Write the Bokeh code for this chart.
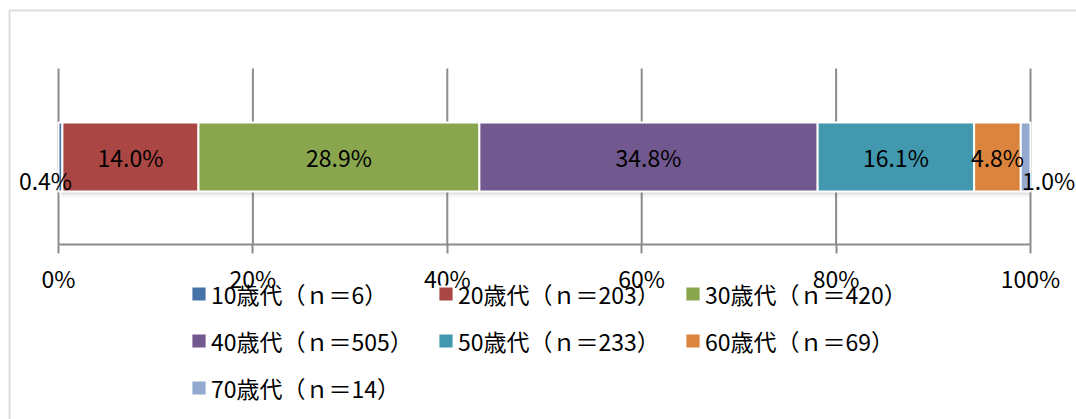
from bokeh.plotting import figure
from bokeh.models import (Range1d, FixedTicker, ColumnDataSource, LabelSet,
                          Legend, LegendItem, BoxAnnotation, LinearAxis)
from bokeh.core.properties import value
from bokeh.embed import file_html
from bokeh.resources import INLINE

# Age groups and their shares (%) of all respondents
groups = ["10歳代", "20歳代", "30歳代", "40歳代", "50歳代", "60歳代", "70歳代"]
counts = [6, 203, 420, 505, 233, 69, 14]
shares = [0.4, 14.0, 28.9, 34.8, 16.1, 4.8, 1.0]
colors = ["#4572A7", "#AA4643", "#89A54E", "#71588F", "#4198AF", "#DB843D", "#93A9CF"]

tick_values = [0, 20, 40, 60, 80, 100]
tick_labels = ["0%", "20%", "40%", "60%", "80%", "100%"]

FONT = "Noto Sans CJK JP"
FS = "23px"
GRAY = "#8C8C8C"

W, H = 1076, 419
# page layout, in pixels from the top-left corner
PLOT_L, PLOT_R = 58, 1030        # 0% and 100%
PLOT_T, AXIS_Y = 68, 244         # top of the grid, axis line
BAR_CY, BAR_HPX = 156.5, 69      # bar centre and thickness


def ypx(py):
    """pixel row (from the top) -> y data value"""
    return H - py


scale = (PLOT_R - PLOT_L) / 100.0
x_start = -PLOT_L / scale
x_end = 100 + (W - PLOT_R) / scale

legend_names = [f"{g}（ｎ＝{n}）" for g, n in zip(groups, counts)]

p = figure(width=W, height=H, output_backend="svg", toolbar_location=None,
           x_range=Range1d(x_start, x_end), y_range=Range1d(0, H),
           x_axis_type=None, y_axis_type=None,
           min_border=0, min_border_left=0, min_border_right=0,
           min_border_top=0, min_border_bottom=0)
p.outline_line_color = None
p.background_fill_color = "white"
p.border_fill_color = "white"

# vertical grid lines at the tick positions
p.segment(x0=tick_values, x1=tick_values,
          y0=[ypx(AXIS_Y)] * len(tick_values), y1=[ypx(PLOT_T)] * len(tick_values),
          line_color=GRAY, line_width=2)

# percent axis
ax = LinearAxis(fixed_location=ypx(AXIS_Y), bounds=(0, 100))
ax.ticker = FixedTicker(ticks=tick_values)
ax.major_label_overrides = {v: s for v, s in zip(tick_values, tick_labels)}
ax.axis_line_color = GRAY
ax.axis_line_width = 2
ax.major_tick_line_color = GRAY
ax.major_tick_line_width = 2
ax.major_tick_in = 0
ax.major_tick_out = 9
ax.minor_tick_line_color = None
ax.major_label_standoff = 7
ax.major_label_text_font = FONT
ax.major_label_text_font_size = FS
ax.major_label_text_color = "black"
p.add_layout(ax, "below")

# soft shadow under the bar
total = sum(shares)
for k, a in enumerate([0.10, 0.07, 0.04]):
    p.hbar(y=ypx(BAR_CY) - 2 * (k + 1), height=BAR_HPX, left=0.3, right=total,
           fill_color="#555555", fill_alpha=a, line_color=None)

# the stacked bar
src = ColumnDataSource({"y": [ypx(BAR_CY)], **{g: [v] for g, v in zip(groups, shares)}})
rends = p.hbar_stack(groups, y="y", height=BAR_HPX, color=colors, source=src,
                     line_color="white", line_width=2)

# value labels, centred in each segment
lefts = [sum(shares[:i]) for i in range(len(shares))]
centers = [l + v / 2 for l, v in zip(lefts, shares)]
x_off = [-15, 0, 0, 0, 0, 0, 23]
y_off = [-23, 0, 0, 0, 0, 0, -23]
lab_src = ColumnDataSource(dict(x=centers, y=[ypx(BAR_CY)] * len(shares),
                                text=[f"{v:.1f}%" for v in shares],
                                xo=x_off, yo=y_off))
p.add_layout(LabelSet(x="x", y="y", text="text", source=lab_src,
                      x_offset="xo", y_offset="yo",
                      text_align="center", text_baseline="middle",
                      text_font=value(FONT), text_font_size=value(FS),
                      text_color="black"))

# legend in three columns below the axis, filled row by row
legend = Legend(items=[LegendItem(label=n, renderers=[r]) for n, r in zip(legend_names, rends)],
                orientation="horizontal", ncols=3, location=(189, H - 411),
                glyph_width=19, glyph_height=19, label_standoff=3,
                label_width=225, label_height=47, spacing=0, padding=0, margin=0,
                label_text_font=FONT, label_text_font_size=FS,
                label_text_color="black",
                border_line_color=None, background_fill_alpha=0)
p.add_layout(legend, "center")

# chart border (top and left edges)
p.add_layout(BoxAnnotation(left=9, right=W + 100, top=H - 10, bottom=-100,
                           left_units="screen", right_units="screen",
                           top_units="screen", bottom_units="screen",
                           fill_alpha=0, line_color=GRAY, line_width=2))

open("out.html", "w").write(file_html(p, INLINE))
